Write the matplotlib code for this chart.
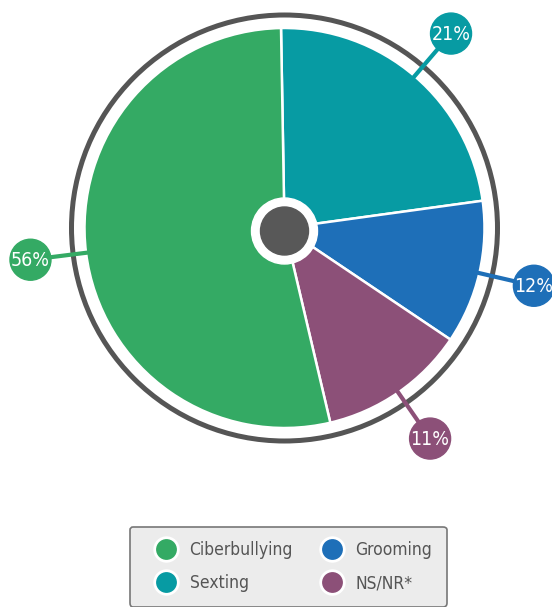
import matplotlib.pyplot as plt
from matplotlib.lines import Line2D
from matplotlib import font_manager
import numpy as np

# slice shares as drawn (clockwise from the top) and the printed labels
categories = ["Sexting", "Grooming", "NS/NR*", "Ciberbullying"]
shares = [23.1, 11.6, 11.9, 53.4]
labels = ["21%", "12%", "11%", "56%"]
colors = ["#079ba3", "#1e6fb8", "#8c5078", "#34aa64"]

legend_order = ["Ciberbullying", "Sexting", "Grooming", "NS/NR*"]

# pick a narrow font if one is installed
names = {f.name for f in font_manager.fontManager.ttflist}
stretch = "normal"
if "Liberation Sans Narrow" in names:
    font = ["Liberation Sans Narrow", "DejaVu Sans"]
else:
    font = ["DejaVu Sans"]
    stretch = "condensed"

fig = plt.figure(figsize=(5.52, 6.07), dpi=100)
ax = fig.add_axes([0, 0, 1, 1])

wedges, _ = ax.pie(shares, colors=colors, radius=200, startangle=91,
                   counterclock=False,
                   wedgeprops=dict(edgecolor="white", linewidth=1.8))

# outer ring
ax.add_patch(plt.Circle((0, 0), 213, fill=False, color="#555555", lw=3.6, zorder=3))

# center dot
ax.add_patch(plt.Circle((0, -3), 33, color="white", zorder=4))
ax.add_patch(plt.Circle((0, -3), 24, color="#585858", zorder=5))

# labels in circles with connectors
for w, lab, c in zip(wedges, labels, colors):
    mid = np.deg2rad((w.theta1 + w.theta2) / 2)
    dx, dy = np.cos(mid), np.sin(mid)
    ax.plot([185 * dx, 255 * dx], [185 * dy, 255 * dy], color=c, lw=3, zorder=6,
            solid_capstyle="butt")
    ax.add_patch(plt.Circle((256 * dx, 256 * dy), 20.5, color=c, zorder=7))
    ax.text(256 * dx, 256 * dy - 1, lab, color="white", fontsize=14, family=font,
            fontstretch=stretch, ha="center", va="center", zorder=8)

ax.set_xlim(-284.5, 267.5)
ax.set_ylim(-379, 228)
ax.set_aspect("equal")
ax.axis("off")

# legend
handles = []
for name in legend_order:
    c = colors[categories.index(name)]
    handles.append(Line2D([], [], linestyle="none", marker="o", markersize=17,
                          markerfacecolor=c, markeredgecolor="white",
                          markeredgewidth=2, label=name))
leg = fig.legend(handles=handles, ncol=2, loc="upper left",
                 bbox_to_anchor=(130 / 552, 1 - 527 / 607), borderaxespad=0,
                 frameon=True, fancybox=True, facecolor="#ececec",
                 edgecolor="#777777", framealpha=1,
                 prop={"family": font, "size": 12.5, "stretch": stretch},
                 labelcolor="#555555",
                 columnspacing=1.0, handletextpad=0.1, labelspacing=0.85,
                 borderpad=0.83, handlelength=2.5)
leg.get_frame().set_linewidth(1.2)

fig.savefig("out.png", dpi=100)
